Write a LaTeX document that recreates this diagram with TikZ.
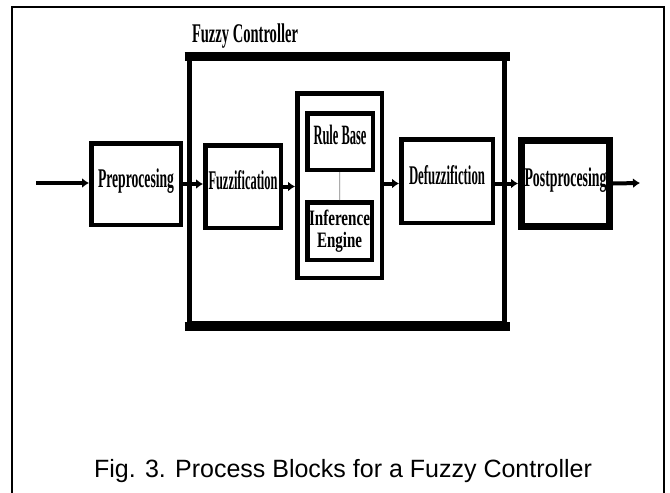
\documentclass[tikz,border=0pt]{standalone}
\usepackage{fontspec}
\setmainfont{Liberation Serif}
\newfontfamily\capfont{Liberation Sans}
\usetikzlibrary{arrows.meta}
% squeeze a label horizontally to a given width (in pt), keeping its height
\newcommand\wfit[2]{\resizebox{#1pt}{\height}{#2}}

\begin{document}
\begin{tikzpicture}[x=1pt,y=-1pt,
  block/.style={draw, line width=4.5pt, inner sep=0pt, align=center,
    text height=0.7em, text depth=0.1em,
    font=\bfseries\fontsize{27}{24}\selectfont},
  flow/.style={line width=4pt, -{Latex[length=7pt,width=10pt]}},
  link/.style={line width=0.8pt, draw=gray},
  frame/.style={line width=2pt},
]
\useasboundingbox (0,0) rectangle (670,493);

% page frame (open at the bottom)
\draw[frame] (12,493) -- (12,7) -- (664,7) -- (664,493);

% fuzzy controller enclosure: thin sides, heavy top and bottom
\node[draw, line width=5pt, minimum width=315pt, minimum height=265pt, inner sep=0pt]
  (ctrl) at (347,191) {};
\draw[line width=9pt, shorten <=-2.5pt, shorten >=-2.5pt] (ctrl.north west) -- (ctrl.north east);
\draw[line width=9pt, shorten <=-2.5pt, shorten >=-2.5pt] (ctrl.south west) -- (ctrl.south east);
\node[font=\bfseries\fontsize{27}{28}\selectfont, inner sep=0pt, anchor=base]
  (title) at (245,42) {\wfit{106}{Fuzzy Controller}};

% processing blocks
\node[block, minimum width=89.5pt, minimum height=81.5pt] (pre) at (136,184)
  {\wfit{76}{Preprocesing}};
\node[block, minimum width=75.5pt, minimum height=82.5pt] (fuzz) at (243,186.5)
  {\wfit{69}{Fuzzification}};
\node[draw, line width=4.5pt, minimum width=84.5pt, minimum height=184.5pt] (group) at (339.5,185.5) {};
\node[block, minimum width=65.5pt, minimum height=56.5pt, font=\bfseries\fontsize{28}{24}\selectfont]
  (rule) at (340,141.5) {\wfit{53}{Rule Base}};
\node[draw, line width=4.5pt, inner sep=0pt, align=center, minimum width=64.5pt, minimum height=57.5pt,
  font=\bfseries\fontsize{22}{22}\selectfont]
  (inf) at (339.5,231) {\wfit{61}{Inference}\\\wfit{45}{Engine}};
\node[block, minimum width=91.5pt, minimum height=83.5pt] (defuzz) at (447,181)
  {\wfit{76}{Defuzzifiction}};
\node[block, line width=7pt, minimum width=88pt, minimum height=86pt] (post) at (565.5,183.5)
  {\wfit{82}{Postprocesing}};

% signal flow
\coordinate (in) at (36,183);
\coordinate (out) at (640,183);
\draw[flow] (in) -- (in -| pre.west);
\draw[flow] (pre) -- (pre -| fuzz.west);
\draw[flow] (fuzz) -- (fuzz -| group.west);
\draw[flow] (group.east |- post) -- (post -| defuzz.west);
\draw[flow] (defuzz.east |- post) -- (post.west);
\draw[flow] (post.east) -- (out);
\draw[link] (rule) -- (inf);

% caption
\node[font=\capfont\fontsize{25}{28}\selectfont, inner sep=0pt, anchor=base]
  (caption) at (343,477) {Fig. 3. Process Blocks for a Fuzzy Controller};
\end{tikzpicture}
\end{document}
